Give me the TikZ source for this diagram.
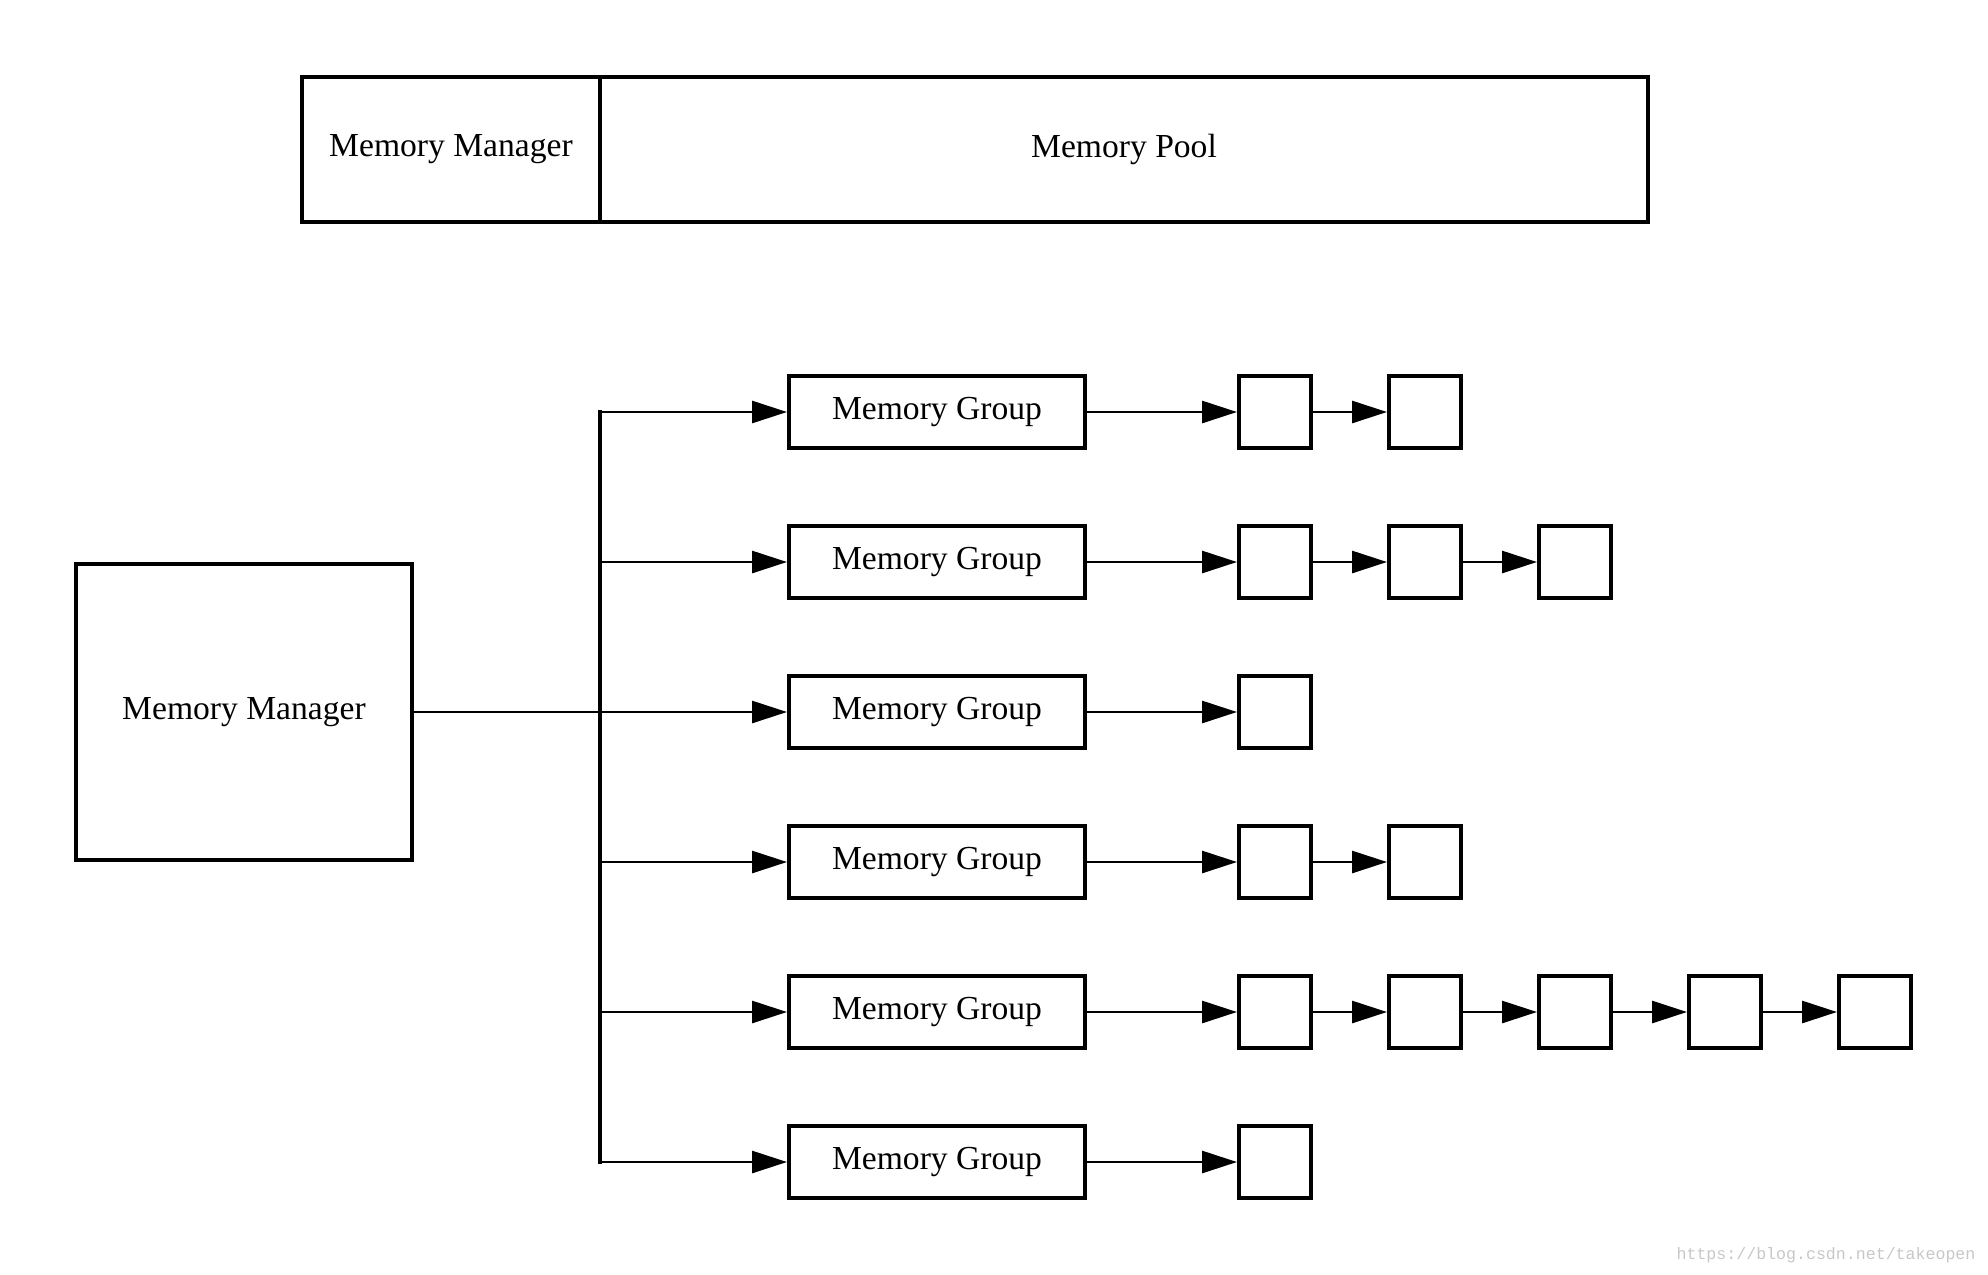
\documentclass[tikz,border=0pt]{standalone}
\usepackage{fontspec}
\setmainfont{Liberation Serif}
\setmonofont{Liberation Mono}
\usetikzlibrary{arrows.meta}

\begin{document}
\begin{tikzpicture}[x=0.5pt, y=-0.5pt,
	box/.style = {draw, line width=2pt, inner sep=0pt, font=\fontsize{16.8}{20}\selectfont},
	group/.style = {box, minimum width=148pt, minimum height=36pt},
	cell/.style = {box, minimum width=36pt, minimum height=36pt},
	link/.style = {line width=1.4pt},
	arr/.style = {link, -{Triangle[length=17.5pt, width=11pt]}}]
	\useasboundingbox (0,0) rectangle (1988,1275);
	% top bar
	\node[box, minimum width=149pt, minimum height=72.5pt] (topmm) at (451,149.5) {Memory Manager};
	\node[box, minimum width=524pt, minimum height=72.5pt] (pool) at (1124,149.5) {Memory Pool};
	% manager and trunk
	\node[box, minimum width=168pt, minimum height=148pt] (mm) at (244,712) {Memory Manager};
	\coordinate (t1) at (600,412);
	\coordinate (t2) at (600,562);
	\coordinate (t3) at (600,712);
	\coordinate (t4) at (600,862);
	\coordinate (t5) at (600,1012);
	\coordinate (t6) at (600,1162);
	\draw[link, line width=1.7pt, line cap=rect] (t1) -- (t6);
	\draw[link] (mm) -- (t3);
	% groups
	\node[group] (g1) at (937,412) {Memory Group};
	\node[group] (g2) at (937,562) {Memory Group};
	\node[group] (g3) at (937,712) {Memory Group};
	\node[group] (g4) at (937,862) {Memory Group};
	\node[group] (g5) at (937,1012) {Memory Group};
	\node[group] (g6) at (937,1162) {Memory Group};
	\draw[arr] (t1) -- (g1);
	\draw[arr] (t2) -- (g2);
	\draw[arr] (t3) -- (g3);
	\draw[arr] (t4) -- (g4);
	\draw[arr] (t5) -- (g5);
	\draw[arr] (t6) -- (g6);
	% blocks
	\node[cell] (c11) at (1275,412) {};
	\node[cell] (c12) at (1425,412) {};
	\draw[arr] (g1) -- (c11);
	\draw[arr] (c11) -- (c12);
	\node[cell] (c21) at (1275,562) {};
	\node[cell] (c22) at (1425,562) {};
	\node[cell] (c23) at (1575,562) {};
	\draw[arr] (g2) -- (c21);
	\draw[arr] (c21) -- (c22);
	\draw[arr] (c22) -- (c23);
	\node[cell] (c31) at (1275,712) {};
	\draw[arr] (g3) -- (c31);
	\node[cell] (c41) at (1275,862) {};
	\node[cell] (c42) at (1425,862) {};
	\draw[arr] (g4) -- (c41);
	\draw[arr] (c41) -- (c42);
	\node[cell] (c51) at (1275,1012) {};
	\node[cell] (c52) at (1425,1012) {};
	\node[cell] (c53) at (1575,1012) {};
	\node[cell] (c54) at (1725,1012) {};
	\node[cell] (c55) at (1875,1012) {};
	\draw[arr] (g5) -- (c51);
	\draw[arr] (c51) -- (c52);
	\draw[arr] (c52) -- (c53);
	\draw[arr] (c53) -- (c54);
	\draw[arr] (c54) -- (c55);
	\node[cell] (c61) at (1275,1162) {};
	\draw[arr] (g6) -- (c61);
	% watermark
	\node[text=black!22, font=\ttfamily\fontsize{8.3}{10}\selectfont, inner sep=0pt] (mark) at (1826,1255) {https://blog.csdn.net/takeopen};
\end{tikzpicture}
\end{document}
